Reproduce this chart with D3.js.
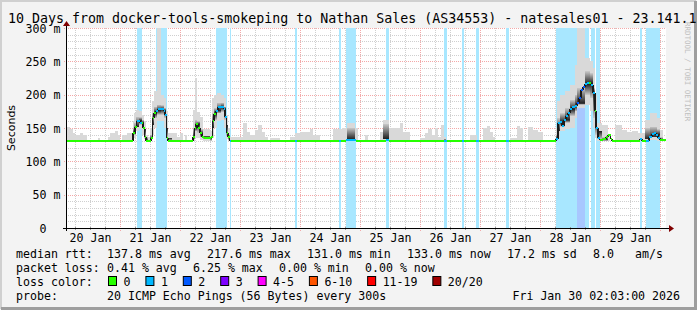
<!DOCTYPE html>
<html>
<head>
<meta charset="utf-8">
<script src="https://cdn.jsdelivr.net/npm/d3@7"></script>
<style>
html, body { margin: 0; padding: 0; background: #f3f3f3; }
svg { display: block; }
text { font-family: "DejaVu Sans Mono", monospace; white-space: pre; }
</style>
</head>
<body>
<svg id="chart" width="697" height="310"></svg>
<script>
'use strict';

// hours since 20 Jan 2026 00:00 UTC
var medHours = [2.4, 29.2, 30, 30.6, 31.4, 32, 32.6, 33.2, 33.8, 34.4, 36.4, 37, 37.6, 38.4, 39.2, 40.4, 41.4, 42, 42.6, 43.2,
	53.2, 53.8, 54.4, 55.2, 56, 56.8, 57.6, 60.4, 61, 61.6, 62.4, 63.2, 64.4, 65.4, 66, 66.6, 67.2, 67.8, 68.4,
	94, 94.8, 111.6, 112.4, 114.4, 118.4, 130.4, 131.6, 153.6, 154.6, 160.6, 161.6, 166.4, 167.4, 178.4, 179.4,
	198.4, 199.2, 200, 200.8, 201.6, 202.4, 203.2, 204, 204.8, 206, 206.8, 207.6, 208.4, 209.2, 210, 210.8, 211.6, 212.4, 213.2,
	214, 214.4, 215.2, 215.8, 217.2, 218.4, 219.2, 220.2, 220.8, 231.8, 232.8, 234.4, 235.6, 236.8, 237.6, 238.4, 239.2, 240, 242.4];
var medMs = [131, 142, 152, 160, 161, 157, 158, 150, 137, 131, 135, 165, 172, 176, 178, 178, 176, 170, 135, 131,
	136, 150, 156, 150, 142, 137, 135, 136, 160, 171, 176, 181, 181, 179, 167, 142, 137, 131, 131,
	131, 131, 131, 131, 132, 131, 132, 131, 131, 131, 131, 131, 131, 131, 131, 131,
	134, 157, 159, 153, 162, 168, 173, 178, 182, 183, 187, 195, 207, 212, 216, 218, 217, 214, 202,
	175, 150, 135, 132, 134, 137, 139, 133, 131, 134, 131, 131, 136, 141, 143, 140, 135, 132, 132];
// lost pings out of 20
var medLoss = [0, 0, 0, 1, 1, 1, 0, 0, 0, 0, 0, 0, 0, 1, 1, 1, 1, 1, 0, 0,
	0, 0, 0, 0, 0, 0, 0, 0, 0, 0, 1, 1, 1, 1, 1, 0, 0, 1, 0,
	1, 0, 1, 0, 1, 0, 1, 0, 1, 0, 1, 0, 1, 0, 1, 0,
	1, 1, 1, 1, 1, 1, 1, 1, 1, 1, 2, 2, 2, 2, 1, 1, 0, 1, 1,
	0, 1, 1, 0, 0, 0, 0, 0, 0, 1, 0, 1, 1, 1, 1, 1, 1, 0, 0];

var smokeHours = [2.4, 4, 5.2, 6, 8, 9.2, 10.8, 15.2, 16, 19.2, 20, 22, 23.2, 24, 24.8, 26.8, 28.8,
	29.2, 29.6, 30.4, 31.6, 32.8, 33.6, 34.4, 35.2, 36, 36.8, 37.6, 38.8, 40.4, 41.6, 42.4, 43, 44.8, 46.8, 48, 49.2, 50, 50.8,
	53.2, 54, 54.8, 56, 57.2, 60, 60.8, 61.6, 62.8, 64.4, 65.6, 66.4, 67.2, 68,
	73.2, 74.8, 76, 78, 79.2, 80.8, 82, 83.2, 84, 88, 92, 94, 96, 100, 101.2, 104, 109.2, 112.8, 114.8, 118, 119.2, 122, 123.2,
	128, 129.2, 131.6, 136, 137.2, 140, 144, 146, 147.2, 148.8, 150, 151.2, 152.4, 153.6, 154.4, 164, 166.8, 169.2, 170.8, 172,
	173.2, 174, 180, 182.8, 184, 185.2, 187.2, 189.2, 191.2, 193.2,
	198.4, 198.8, 200, 202, 204, 206, 206.8, 210, 212, 213.2, 214, 214.8, 216.8, 219.2, 220, 222, 224.8, 226.8, 228.8, 231.2,
	234, 236, 238.8, 240, 241.2, 242.4];
var smokeMin = [131, 131, 131, 131, 131, 131, 131, 131, 131, 131, 131, 131, 131, 131, 131, 131, 131,
	131, 135, 145, 148, 140, 133, 131, 131, 131, 140, 150, 160, 160, 150, 133, 131, 131, 131, 131, 131, 131, 131,
	131, 135, 135, 132, 131, 131, 135, 150, 160, 162, 150, 133, 131, 131,
	131, 131, 131, 131, 131, 131, 131, 131, 131, 131, 131, 131, 131, 131, 131, 131, 131, 131, 131, 131, 131, 131, 131,
	131, 131, 131, 131, 131, 131, 131, 131, 131, 131, 131, 131, 131, 131, 131, 131, 131, 131, 131, 131,
	131, 131, 131, 131, 131, 131, 131, 131, 131, 131,
	131, 135, 145, 148, 150, 165, 180, 185, 175, 150, 135, 131, 131, 131, 131, 131, 131, 131, 131, 131,
	131, 132, 131, 131, 131, 131];
var smokeLo = [131, 131, 131, 131, 131, 131, 131, 131, 131, 131, 131, 131, 131, 131, 131, 131, 131,
	136, 140, 152, 155, 150, 135, 131, 131, 133, 155, 165, 170, 170, 165, 135, 131, 131, 131, 131, 131, 131, 131,
	133, 145, 143, 136, 133, 131, 150, 162, 172, 174, 162, 138, 132, 131,
	131, 131, 131, 131, 131, 131, 131, 131, 131, 131, 131, 131, 131, 131, 131, 131, 131, 131, 133, 131, 131, 131, 131,
	131, 134, 131, 131, 131, 131, 131, 131, 131, 131, 131, 131, 131, 131, 131, 131, 131, 131, 131, 131,
	131, 131, 131, 131, 131, 131, 131, 131, 131, 131,
	133, 145, 152, 158, 168, 175, 185, 200, 195, 165, 140, 133, 131, 131, 131, 131, 131, 131, 131, 131,
	133, 136, 134, 131, 131, 131];
var smokeHi = [131, 131, 131, 131, 131, 131, 131, 131, 131, 131, 131, 131, 131, 131, 131, 131, 131,
	150, 158, 167, 166, 162, 148, 136, 131, 140, 172, 182, 185, 184, 180, 150, 135, 131, 131, 131, 131, 131, 131,
	150, 162, 160, 148, 138, 136, 172, 180, 188, 188, 182, 155, 140, 131,
	131, 131, 131, 131, 131, 131, 131, 131, 131, 131, 131, 131, 131, 131, 131, 131, 131, 131, 150, 131, 131, 131, 131,
	131, 156, 131, 131, 131, 131, 131, 131, 131, 131, 131, 131, 131, 134, 131, 131, 131, 131, 131, 131,
	131, 131, 131, 131, 131, 131, 131, 131, 131, 131,
	140, 165, 172, 180, 192, 200, 210, 235, 232, 210, 160, 145, 136, 131, 131, 131, 131, 131, 131, 131,
	150, 152, 148, 136, 131, 131];
var smokeMax = [151, 148, 142, 139.5, 142, 139.5, 131, 134.5, 131, 137, 143, 146, 139, 131, 139.5, 142, 143,
	160, 172, 177, 175, 170, 160, 140, 136, 150, 190, 205, 310, 200, 195, 175, 143, 142, 137, 142, 131, 139.5, 131,
	177, 225, 174, 167, 148, 145, 195, 200, 203, 200, 195, 170, 150, 137,
	157, 144.5, 139.5, 147, 154.5, 144.5, 137, 131, 134.5, 131, 137, 142, 144.5, 148, 139.5, 131, 148, 150, 157, 150, 131, 139.5, 131,
	144.5, 162, 150, 157, 144.5, 131, 134.5, 142, 148, 139.5, 150, 137, 154.5, 137, 131, 139.5, 131, 150, 153, 144.5,
	137, 131, 135.5, 153, 150, 131, 152, 147, 144.5, 131,
	150, 190, 200, 205, 215, 245, 310, 255, 250, 240, 200, 157, 154.5, 139, 131, 154.5, 147, 144, 146, 143,
	162, 172, 165, 147, 131, 131];

var lossLabels = ['0', '1', '2', '3', '4-5', '6-10', '11-19', '20/20'];
var lossUpper = [0, 1, 2, 3, 5, 10, 19, 20];
var lossColors = ['#26ff00', '#00b8ff', '#0059ff', '#7e00ff', '#ff00ff', '#ff5500', '#ff0000', '#a00000'];

var dayLabels = ['20 Jan', '21 Jan', '22 Jan', '23 Jan', '24 Jan', '25 Jan', '26 Jan', '27 Jan', '28 Jan', '29 Jan'];
var yTicks = [0, 50, 100, 150, 200, 250, 300];

var rttValues = [137.8, 217.6, 131.0, 133.0, 17.2];
var rttKinds = ['avg', 'max', 'min', 'now', 'sd'];
var amPerSec = 8.0;
var lossValues = [0.41, 6.25, 0.00, 0.00];
var lossKinds = ['avg', 'max', 'min', 'now'];
var title = '10 Days from docker-tools-smokeping to Nathan Sales (AS34553) - natesales01 - 23.141.1';
var probeText = '20 ICMP Echo Pings (56 Bytes) every 300s';
var stampText = 'Fri Jan 30 02:03:00 2026';

var W = 697, H = 310;
var pLeft = 66, pRight = 666, pTop = 28, pBottom = 228;
var t0 = Date.UTC(2026, 0, 20);
function hd(h) { return new Date(t0 + h * 3600e3); }

var x = d3.scaleUtc()
	.domain([hd(2.4), hd(242.4)])
	.range([pLeft, pRight]);
var y = d3.scaleLinear()
	.domain([0, 300])
	.range([pBottom, pTop]);

function bucket(n) {
	for (var i = 0; i < lossUpper.length; i++) if (n <= lossUpper[i]) return i;
	return lossUpper.length - 1;
}
// median in force at hour h (step lookup)
function medAt(h) {
	var i = d3.bisectRight(medHours, h) - 1;
	return medMs[Math.max(0, i)];
}
var lossLight = lossColors.map(function (c) { return d3.interpolateRgb(c, '#ffffff')(0.66); });

var svg = d3.select('#chart');
var defs = svg.append('defs');
defs.append('clipPath').attr('id', 'plot')
	.append('rect').attr('x', pLeft).attr('y', pTop).attr('width', pRight - pLeft).attr('height', pBottom - pTop);
var gUp = defs.append('linearGradient').attr('id', 'smokeUp').attr('x1', 0).attr('x2', 0).attr('y1', 0).attr('y2', 1);
gUp.append('stop').attr('offset', '0%').attr('stop-color', '#c8c8c8');
gUp.append('stop').attr('offset', '100%').attr('stop-color', '#222222');
var gDn = defs.append('linearGradient').attr('id', 'smokeDown').attr('x1', 0).attr('x2', 0).attr('y1', 0).attr('y2', 1);
gDn.append('stop').attr('offset', '0%').attr('stop-color', '#222222');
gDn.append('stop').attr('offset', '100%').attr('stop-color', '#c8c8c8');

// frame
svg.append('rect').attr('width', W).attr('height', H).attr('fill', '#f3f3f3');
svg.append('path').attr('d', 'M1,' + (H - 1) + 'V1H' + (W - 1)).attr('fill', 'none').attr('stroke', '#d0d0d0').attr('stroke-width', 2);
svg.append('path').attr('d', 'M1,' + (H - 1.5) + 'H' + (W - 1.5) + 'V1').attr('fill', 'none').attr('stroke', '#9e9e9e').attr('stroke-width', 3);
svg.append('rect').attr('x', pLeft).attr('y', pTop).attr('width', pRight - pLeft).attr('height', pBottom - pTop).attr('fill', '#ffffff');

// grid
var g = svg.append('g').attr('shape-rendering', 'crispEdges');
var minorX = d3.utcHour.every(6).range(hd(2.4), hd(242.4)).filter(function (d) { return d.getUTCHours() !== 0; });
var majorX = d3.utcDay.range(hd(2.4), hd(242.4));
g.selectAll('line.mx').data(minorX).enter().append('line')
	.attr('x1', function (d) { return Math.round(x(d)) + 0.5; }).attr('x2', function (d) { return Math.round(x(d)) + 0.5; })
	.attr('y1', pTop).attr('y2', pBottom)
	.attr('stroke', '#cfcfcf').attr('stroke-dasharray', '1,1');
var minorY = d3.range(10, 300, 10).filter(function (v) { return v % 50 !== 0; });
g.selectAll('line.my').data(minorY).enter().append('line')
	.attr('x1', pLeft).attr('x2', pRight)
	.attr('y1', function (d) { return Math.round(y(d)) + 0.5; }).attr('y2', function (d) { return Math.round(y(d)) + 0.5; })
	.attr('stroke', '#cfcfcf').attr('stroke-dasharray', '1,1');
g.selectAll('line.Mx').data(majorX).enter().append('line')
	.attr('x1', function (d) { return Math.round(x(d)) + 0.5; }).attr('x2', function (d) { return Math.round(x(d)) + 0.5; })
	.attr('y1', pTop).attr('y2', pBottom + 3)
	.attr('stroke', '#f3a8a8').attr('stroke-dasharray', '1,1');
g.selectAll('line.My').data(yTicks.slice(1)).enter().append('line')
	.attr('x1', pLeft - 2).attr('x2', pRight)
	.attr('y1', function (d) { return Math.round(y(d)) + 0.5; }).attr('y2', function (d) { return Math.round(y(d)) + 0.5; })
	.attr('stroke', '#f3a8a8').attr('stroke-dasharray', '1,1');

var plot = svg.append('g').attr('clip-path', 'url(#plot)').attr('shape-rendering', 'crispEdges');

// loss background
var medIdx = d3.range(medHours.length - 1);
plot.selectAll('rect.lossbg').data(medIdx.filter(function (i) { return medLoss[i] > 0; })).enter().append('rect')
	.attr('x', function (i) { return x(hd(medHours[i])); })
	.attr('width', function (i) { return x(hd(medHours[i + 1])) - x(hd(medHours[i])); })
	.attr('y', pTop).attr('height', pBottom - pTop)
	.attr('fill', function (i) { return lossLight[bucket(medLoss[i])]; });

// smoke
var smIdx = d3.range(smokeHours.length - 1);
function sx(i) { return x(hd(smokeHours[i])); }
function sw(i) { return x(hd(smokeHours[i + 1])) - x(hd(smokeHours[i])); }
function smid(i) {
	var m = medAt(smokeHours[i] + 0.01);
	return Math.max(smokeLo[i], Math.min(smokeHi[i], m));
}
plot.selectAll('rect.smax').data(smIdx).enter().append('rect')
	.attr('x', sx).attr('width', sw)
	.attr('y', function (i) { return y(smokeMax[i]); })
	.attr('height', function (i) { return y(smokeMin[i]) - y(smokeMax[i]); })
	.attr('fill', '#d9d9d9');
var dense = smIdx.filter(function (i) { return smokeHi[i] > smokeLo[i]; });
plot.selectAll('rect.sup').data(dense.filter(function (i) { return smokeHi[i] > smid(i); })).enter().append('rect')
	.attr('x', sx).attr('width', sw)
	.attr('y', function (i) { return y(smokeHi[i]); })
	.attr('height', function (i) { return y(smid(i)) - y(smokeHi[i]); })
	.attr('fill', 'url(#smokeUp)');
plot.selectAll('rect.sdn').data(dense.filter(function (i) { return smid(i) > smokeLo[i]; })).enter().append('rect')
	.attr('x', sx).attr('width', sw)
	.attr('y', function (i) { return y(smid(i)); })
	.attr('height', function (i) { return y(smokeLo[i]) - y(smid(i)); })
	.attr('fill', 'url(#smokeDown)');

// median rtt, coloured by loss
plot.selectAll('line.rise').data(medIdx.slice(1)).enter().append('line')
	.attr('x1', function (i) { return x(hd(medHours[i])); }).attr('x2', function (i) { return x(hd(medHours[i])); })
	.attr('y1', function (i) { return y(medMs[i - 1]); }).attr('y2', function (i) { return y(medMs[i]); })
	.attr('stroke', '#1a1a1a').attr('stroke-width', 1.2);
plot.selectAll('line.med').data(medIdx).enter().append('line')
	.attr('x1', function (i) { return x(hd(medHours[i])); })
	.attr('x2', function (i) { return x(hd(medHours[i + 1])); })
	.attr('y1', function (i) { return y(medMs[i]); }).attr('y2', function (i) { return y(medMs[i]); })
	.attr('stroke', function (i) { return lossColors[bucket(medLoss[i])]; })
	.attr('stroke-width', 2);

// axes
var ax = svg.append('g').attr('shape-rendering', 'crispEdges');
ax.selectAll('line.tmin').data(minorX).enter().append('line')
	.attr('x1', function (d) { return Math.round(x(d)) + 0.5; }).attr('x2', function (d) { return Math.round(x(d)) + 0.5; })
	.attr('y1', pBottom - 1).attr('y2', pBottom + 2).attr('stroke', '#999');
ax.append('line').attr('x1', pLeft - 3).attr('x2', pRight + 5).attr('y1', pBottom + 0.5).attr('y2', pBottom + 0.5).attr('stroke', '#000');
ax.append('line').attr('x1', pLeft + 0.5).attr('x2', pLeft + 0.5).attr('y1', pBottom + 3).attr('y2', pTop - 3).attr('stroke', '#000');
svg.append('path').attr('d', 'M' + (pRight + 3) + ',' + (pBottom - 3) + 'l5,3.5l-5,3.5z').attr('fill', '#800000');
svg.append('path').attr('d', 'M' + (pLeft - 3) + ',' + (pTop - 2) + 'l3.5,-5l3.5,5z').attr('fill', '#800000');

var noon = dayLabels.map(function (l, i) { return hd(12 + 24 * i); });
var xAxis = d3.axisBottom(x).tickValues(noon)
	.tickFormat(function (d, i) { return dayLabels[i]; })
	.tickSize(0).tickPadding(0);
var xa = svg.append('g').attr('transform', 'translate(0,' + (pBottom + 13.5) + ')').call(xAxis);
xa.select('.domain').remove();
xa.selectAll('text').attr('font-family', '"DejaVu Sans Mono", monospace').attr('font-size', '11.6px').attr('fill', '#000').attr('dy', 0);

var yAxis = d3.axisLeft(y).tickValues(yTicks)
	.tickFormat(function (d) { return d === 0 ? '0  ' : d + ' m'; })
	.tickSize(0).tickPadding(0);
var ya = svg.append('g').attr('transform', 'translate(' + 60.5 + ',0)').call(yAxis);
ya.select('.domain').remove();
ya.selectAll('text').attr('font-family', '"DejaVu Sans Mono", monospace').attr('font-size', '11.6px').attr('fill', '#000').attr('dy', '0.35em');

svg.append('text').attr('x', 8).attr('y', 23).attr('font-size', '13.3px').attr('fill', '#000').text(title);
svg.append('text').attr('transform', 'translate(14.5,128) rotate(-90)').attr('text-anchor', 'middle')
	.style('font-family', '"DejaVu Sans", sans-serif').attr('font-size', '11px').attr('fill', '#000').text('Seconds');
svg.append('text').attr('transform', 'translate(685,22) rotate(90)')
	.attr('font-size', '7.5px').attr('fill', '#c0c0c0').text('RRDTOOL / TOBI OETIKER');

// legend
var lg = svg.append('g').attr('font-size', '11.6px').attr('fill', '#000');
var rowY = [258, 272, 286, 300];
var rttX = [107, 207, 307, 407, 507];
lg.append('text').attr('x', 16).attr('y', rowY[0]).text('median rtt:');
lg.selectAll('text.rtt').data(rttValues).enter().append('text')
	.attr('x', function (d, i) { return rttX[i]; }).attr('y', rowY[0])
	.text(function (d, i) { return d.toFixed(1) + ' ms ' + rttKinds[i]; });
lg.append('text').attr('x', 593).attr('y', rowY[0]).text(amPerSec.toFixed(1));
lg.append('text').attr('x', 635).attr('y', rowY[0]).text('am/s');

var lossX = [107, 193, 279, 365];
lg.append('text').attr('x', 16).attr('y', rowY[1]).text('packet loss:');
lg.selectAll('text.pl').data(lossValues).enter().append('text')
	.attr('x', function (d, i) { return lossX[i]; }).attr('y', rowY[1])
	.text(function (d, i) { return d.toFixed(2) + ' % ' + lossKinds[i]; });

lg.append('text').attr('x', 16).attr('y', rowY[2]).text('loss color:');
var boxX = [];
var bx = 108.5;
lossLabels.forEach(function (l) { boxX.push(bx); bx += 30.45 + 6.95 * l.length; });
lg.selectAll('rect.lc').data(lossLabels).enter().append('rect')
	.attr('x', function (d, i) { return boxX[i]; }).attr('y', rowY[2] - 9.5)
	.attr('width', 8).attr('height', 9)
	.attr('fill', function (d, i) { return lossColors[i]; })
	.attr('stroke', '#000').attr('stroke-width', 1);
lg.selectAll('text.lc').data(lossLabels).enter().append('text')
	.attr('x', function (d, i) { return boxX[i] + 15; }).attr('y', rowY[2])
	.text(function (d) { return d; });

lg.append('text').attr('x', 16).attr('y', rowY[3]).text('probe:');
lg.append('text').attr('x', 107).attr('y', rowY[3]).text(probeText);
lg.append('text').attr('x', 680).attr('y', rowY[3]).attr('text-anchor', 'end').text(stampText);
</script>
</body>
</html>
